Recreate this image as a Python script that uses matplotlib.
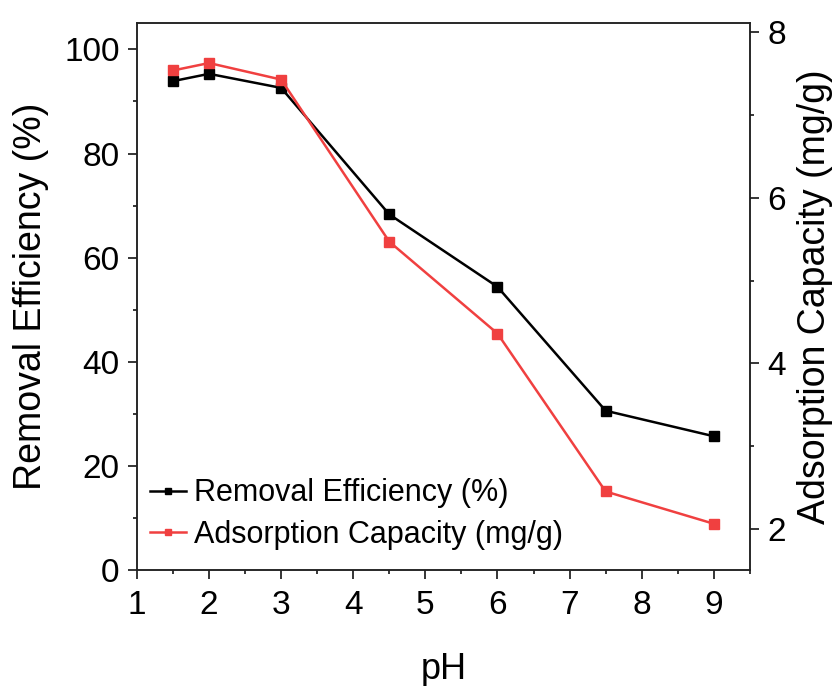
import matplotlib
matplotlib.use("Agg")
import matplotlib.pyplot as plt
from matplotlib.ticker import MultipleLocator

plt.rcParams['font.family'] = ['Liberation Sans', 'DejaVu Sans']

# pH series
ph = [1.5, 2, 3, 4.5, 6, 7.5, 9]
removal_eff = [93.9, 95.3, 92.6, 68.3, 54.4, 30.6, 25.7]      # %
ads_capacity = [7.54, 7.63, 7.43, 5.47, 4.36, 2.45, 2.06]     # mg/g

BLACK = '#000000'
RED = '#F04040'


def style_axis(ax):
    for sp in ax.spines.values():
        sp.set_linewidth(1.1)
        sp.set_color('#222222')
    ax.tick_params(which='major', direction='out', length=6.5, width=1.1,
                   labelsize=24, pad=6)
    ax.tick_params(which='minor', direction='out', length=3.2, width=1.1)


def main():
    fig = plt.figure(figsize=(8.35, 6.86), dpi=100)
    ax = fig.add_axes([0.164, 0.169, 0.734, 0.797])
    ax2 = ax.twinx()

    l1, = ax.plot(ph, removal_eff, color=BLACK, lw=1.8, marker='s', ms=7.5,
                  label='Removal Efficiency (%)', zorder=3)
    l2, = ax2.plot(ph, ads_capacity, color=RED, lw=1.8, marker='s', ms=7.5,
                   label='Adsorption Capacity (mg/g)', zorder=3)

    ax.set_xlim(1, 9.5)
    ax.set_ylim(0, 105)
    ax2.set_ylim(1.5, 8.11)

    ax.xaxis.set_major_locator(MultipleLocator(1))
    ax.xaxis.set_minor_locator(MultipleLocator(0.5))
    ax.yaxis.set_major_locator(MultipleLocator(20))
    ax.yaxis.set_minor_locator(MultipleLocator(10))
    ax2.yaxis.set_major_locator(MultipleLocator(2))
    ax2.yaxis.set_minor_locator(MultipleLocator(1))

    style_axis(ax)
    style_axis(ax2)
    ax.tick_params(axis='x', pad=8)

    ax.set_xlabel('pH', fontsize=26, labelpad=22)
    ax.set_ylabel('Removal Efficiency (%)', fontsize=27, labelpad=11)
    ax2.set_ylabel('Adsorption Capacity (mg/g)', fontsize=27, labelpad=8)

    leg = ax.legend(handles=[l1, l2], loc='lower left', frameon=False,
                    fontsize=22, handlelength=1.2, handletextpad=0.25,
                    labelspacing=0.38, borderpad=0.0, borderaxespad=0.0,
                    bbox_to_anchor=(0.021, 0.037))
    for h in leg.legend_handles:
        h.set_markersize(5)

    fig.savefig('out.png', dpi=100)


if __name__ == "__main__":
    main()
